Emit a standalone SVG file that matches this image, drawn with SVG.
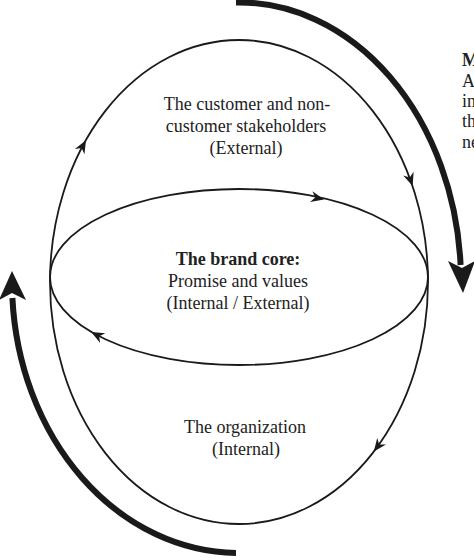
<svg xmlns="http://www.w3.org/2000/svg" xmlns:xlink="http://www.w3.org/1999/xlink" width="474" height="560" viewBox="0 0 474 560">
<style>
.thin{fill:none;stroke:#1a1a1a;stroke-width:1.8}
.thick{fill:none;stroke:#1a1a1a;stroke-width:6}
.head{fill:#1a1a1a}
.t{font-family:"Liberation Serif","Times New Roman",serif;font-size:18px;fill:#222;text-anchor:middle}
.b{font-weight:bold}
.r{font-family:"Liberation Serif","Times New Roman",serif;font-size:18px;fill:#222}
</style>
<defs>
<path id="ah" d="M2,0 L-11,-5.5 L-7,0 L-11,5.5 Z" class="head"/>
</defs>
<rect width="474" height="560" fill="#fff"/>
<g id="connectors">
<path class="thick" d="M236,2.5 A222 279 0 0 1 460.6,265"/>
<path class="head" d="M463,293 L448,261 L462,268 L475,261 Z"/>
<path class="thick" d="M236,553 A227 271 0 0 1 12.4,298"/>
<path class="head" d="M12,271 L-1,300 L12,293 L26,300 Z"/>
<use xlink:href="#ah" transform="translate(85,142) rotate(-61)"/>
<use xlink:href="#ah" transform="translate(412,184) rotate(71)"/>
<use xlink:href="#ah" transform="translate(375,450) rotate(127)"/>
<use xlink:href="#ah" transform="translate(322,199) rotate(12.5)"/>
<use xlink:href="#ah" transform="translate(93,333) rotate(-152)"/>
</g>
<g id="external">
<ellipse class="thin" cx="239" cy="282" rx="189" ry="242"/>
<text class="t" x="247" y="110">The customer and non-</text>
<text class="t" x="246" y="132">customer stakeholders</text>
<text class="t" x="246" y="154">(External)</text>
</g>
<g id="brand-core">
<ellipse class="thin" cx="239" cy="277" rx="189" ry="88"/>
<text class="t b" x="238" y="265">The brand core:</text>
<text class="t" x="238" y="287">Promise and values</text>
<text class="t" x="238" y="309">(Internal / External)</text>
</g>
<g id="organization">
<text class="t" x="245" y="433">The organization</text>
<text class="t" x="246" y="455">(Internal)</text>
</g>
<g id="side-note">
<text class="r b" x="462" y="66">M</text>
<text class="r" x="462" y="87">A</text>
<text class="r" x="462" y="107">in</text>
<text class="r" x="462" y="127">th</text>
<text class="r" x="462" y="148">ne</text>
</g>
</svg>
